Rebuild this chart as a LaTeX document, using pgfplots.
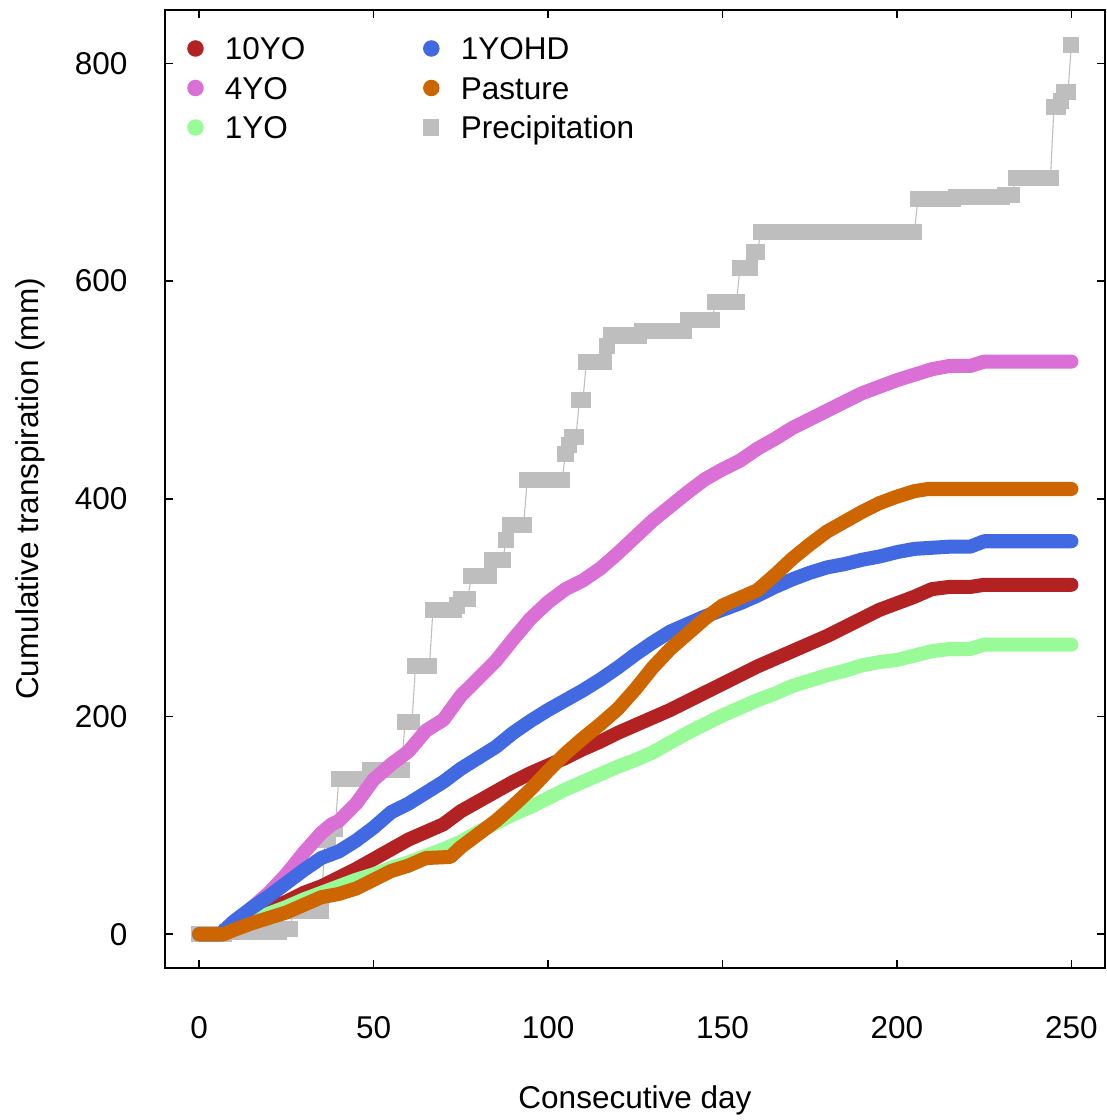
\documentclass[border=0pt]{standalone}
\usepackage{fontspec}
\setmainfont{Liberation Sans}
\usepackage{pgfplots}
\pgfplotsset{compat=1.18}

\definecolor{c10yo}{RGB}{178,34,34}
\definecolor{c4yo}{RGB}{218,112,214}
\definecolor{c1yo}{RGB}{152,251,152}
\definecolor{c1yohd}{RGB}{65,105,225}
\definecolor{cpast}{RGB}{205,102,0}
\definecolor{cprec}{RGB}{190,190,190}

\newcommand\fs{\fontsize{11.67pt}{14pt}\selectfont}

\begin{document}
\begin{tikzpicture}
\begin{axis}[
  scale only axis,
  width=348.1pt, height=354.8pt,
  xmin=-9.8, xmax=259.6, ymin=-31, ymax=849,
  clip=false, clip marker paths=true,
  xtick={0,50,...,250}, ytick={0,200,...,800},
  tick align=inside, major tick length=3pt,
  tick style={black, line width=0.6pt},
  axis line style={line width=0.5pt},
  /pgf/number format/assume math mode=true,
  tick label style={font=\fs},
  xticklabel style={anchor=base, inner sep=0pt, yshift=-26.3pt},
  yticklabel style={anchor=east, inner sep=0pt, xshift=-13.7pt},
  xlabel={Consecutive day},
  ylabel={Cumulative transpiration (mm)},
  label style={font=\fs, inner sep=0pt},
  xlabel style={at={(axis description cs:0.5,-0.1463)}, anchor=base},
  ylabel style={at={(axis description cs:-0.1346,0.5)}, anchor=base},
  legend columns=2,
  legend cell align=left,
  legend style={draw=none, fill=none, inner sep=0pt, font=\fs,
    at={(axis description cs:0,1)}, anchor=north west,
    xshift=8.1pt, yshift=-9.26pt, row sep=3.03pt,
    nodes={inner sep=0pt, text height=9pt, text depth=2.6pt},
    /tikz/every odd column/.append style={column sep=7.9pt},
    /tikz/every even column/.append style={column sep=43.6pt}},
  legend image code/.code={%
    \draw[#1] plot coordinates {(0pt,1pt)};
    \path[draw=none, fill=none] (-3pt,-5.8pt) rectangle (3pt,5.8pt);},
]
% legend, filled row by row
\addlegendimage{mark=*, mark size=2.85pt, color=c10yo}
\addlegendentry{10YO}
\addlegendimage{mark=*, mark size=2.85pt, color=c1yohd}
\addlegendentry{1YOHD}
\addlegendimage{mark=*, mark size=2.85pt, color=c4yo}
\addlegendentry{4YO}
\addlegendimage{mark=*, mark size=2.85pt, color=cpast}
\addlegendentry{Pasture}
\addlegendimage{mark=*, mark size=2.85pt, color=c1yo}
\addlegendentry{1YO}
\addlegendimage{mark=square*, mark size=2.78pt, color=cprec}
\addlegendentry{Precipitation}

% cumulative precipitation, one value per day
\addplot[forget plot, color=cprec, line width=0.4pt, mark=square*, mark size=2.78pt,
  mark options={draw=none, fill=cprec}] table[row sep=\\] {
x y\\
0 0\\1 0\\2 0\\3 0\\4 0\\5 0\\6 0\\7 0\\8 2\\9 2\\10 2\\11 2\\12 2\\13 2\\14 2\\15 2\\
16 2\\17 2\\18 2\\19 2\\20 2\\21 2\\22 2\\23 2\\24 5\\25 5\\26 5\\27 21\\28 21\\29 21\\
30 21\\31 21\\32 21\\33 21\\34 21\\35 21\\36 87\\37 87\\38 97\\39 97\\40 143\\41 143\\
42 143\\43 143\\44 143\\45 143\\46 143\\47 143\\48 143\\49 151\\50 151\\51 151\\52 151\\
53 151\\54 151\\55 151\\56 151\\57 151\\58 151\\59 195\\60 195\\61 195\\62 246\\63 246\\
64 246\\65 246\\66 246\\67 298\\68 298\\69 298\\70 298\\71 298\\72 298\\73 298\\74 302\\
75 308\\76 308\\77 308\\78 329\\79 329\\80 329\\81 329\\82 329\\83 329\\84 344\\85 344\\
86 344\\87 344\\88 362\\89 376\\90 376\\91 376\\92 376\\93 376\\94 417\\95 417\\96 417\\
97 417\\98 417\\99 417\\100 417\\101 417\\102 417\\103 417\\104 417\\105 441\\106 449\\
107 457\\108 457\\109 491\\110 491\\111 526\\112 526\\113 526\\114 526\\115 526\\116 526\\
117 540\\118 550\\119 550\\120 550\\121 550\\122 550\\123 550\\124 550\\125 550\\126 550\\
127 554\\128 554\\129 554\\130 554\\131 554\\132 554\\133 554\\134 554\\135 554\\136 554\\
137 554\\138 554\\139 554\\140 564\\141 564\\142 564\\143 564\\144 564\\145 564\\146 564\\
147 564\\148 581\\149 581\\150 581\\151 581\\152 581\\153 581\\154 581\\155 612\\156 612\\
157 612\\158 612\\159 627\\160 627\\161 645\\162 645\\163 645\\164 645\\165 645\\166 645\\
167 645\\168 645\\169 645\\170 645\\171 645\\172 645\\173 645\\174 645\\175 645\\176 645\\
177 645\\178 645\\179 645\\180 645\\181 645\\182 645\\183 645\\184 645\\185 645\\186 645\\
187 645\\188 645\\189 645\\190 645\\191 645\\192 645\\193 645\\194 645\\195 645\\196 645\\
197 645\\198 645\\199 645\\200 645\\201 645\\202 645\\203 645\\204 645\\205 645\\206 675\\
207 675\\208 675\\209 675\\210 675\\211 675\\212 675\\213 675\\214 675\\215 675\\216 675\\
217 677\\218 677\\219 677\\220 677\\221 677\\222 677\\223 677\\224 677\\225 677\\226 677\\
227 677\\228 677\\229 677\\230 677\\231 679\\232 679\\233 679\\234 695\\235 695\\236 695\\
237 695\\238 695\\239 695\\240 695\\241 695\\242 695\\243 695\\244 695\\245 760\\246 760\\
247 765\\248 774\\249 774\\250 817\\
};

% cumulative transpiration per site
\pgfplotsset{trans/.style={forget plot, line width=5.2pt, line cap=round, line join=round}}

\addplot[trans, color=c10yo] coordinates {
(0,0)(7,0)(10,7)(15,15)(20,23)(25,30)(30,38)(35,44)(40,52)(45,60)(50,69)(55,78)
(60,87)(65,94)(70,101)(75,113)(80,122)(85,131)(90,140)(95,148)(100,155)(105,162)
(110,170)(115,177)(120,185)(125,192)(130,199)(135,206)(140,214)(145,222)(150,230)
(155,238)(160,246)(165,253)(170,260)(175,267)(180,274)(185,282)(190,290)(195,298)
(200,304)(205,310)(210,317)(215,319)(221,319)(225,321)(250,321)};

\addplot[trans, color=c4yo] coordinates {
(0,0)(7,0)(10,10)(15,24)(20,38)(25,55)(30,75)(35,93)(38,101)(40,104)(45,120)(50,142)
(55,156)(60,168)(65,187)(70,197)(75,219)(80,235)(85,251)(90,271)(95,290)(100,305)
(105,317)(110,325)(115,336)(120,350)(125,365)(130,380)(135,393)(140,406)(145,418)
(150,427)(155,435)(160,446)(165,455)(170,465)(175,473)(180,481)(185,489)(190,497)
(195,503)(200,509)(205,514)(210,519)(215,522)(221,522)(225,526)(250,526)};

\addplot[trans, color=c1yo] coordinates {
(0,0)(7,0)(10,6)(15,12)(20,19)(25,25)(30,32)(35,38)(40,44)(45,50)(50,55)(55,61)
(60,66)(65,72)(70,78)(75,85)(80,94)(85,102)(90,110)(95,117)(100,125)(105,133)
(110,140)(115,147)(120,154)(125,160)(130,167)(135,176)(140,185)(145,193)(150,201)
(155,208)(160,215)(165,221)(170,228)(175,233)(180,238)(185,242)(190,247)(195,250)
(200,252)(205,256)(210,260)(215,262)(221,262)(225,266)(250,266)};

\addplot[trans, color=c1yohd] coordinates {
(0,0)(6,0)(10,12)(15,24)(20,35)(25,47)(30,59)(35,70)(40,76)(45,86)(50,98)(55,112)
(60,120)(65,130)(70,140)(75,152)(80,162)(85,172)(90,185)(95,196)(100,206)(105,215)
(110,224)(115,234)(120,245)(125,257)(130,268)(135,278)(140,285)(145,292)(150,298)
(155,304)(160,311)(165,319)(170,326)(175,332)(180,337)(185,340)(190,344)(195,347)
(200,351)(205,354)(210,355)(215,356)(221,356)(225,361)(250,361)};

\addplot[trans, color=cpast] coordinates {
(0,0)(7,0)(10,4)(15,10)(20,15)(25,20)(30,27)(35,34)(40,37)(45,42)(50,50)(55,58)
(60,63)(65,70)(72,71)(75,80)(80,92)(85,104)(90,118)(95,133)(100,150)(105,166)
(110,180)(115,193)(120,207)(125,225)(130,245)(135,262)(140,276)(145,290)(150,302)
(155,309)(160,316)(165,330)(170,345)(175,358)(180,370)(185,379)(190,388)(195,396)
(200,402)(205,407)(209,409)(250,409)};

% heavier left and bottom axis lines
\draw[line width=0.85pt] (rel axis cs:0,1) -- (rel axis cs:0,0) -- (rel axis cs:1,0);
\end{axis}
\path ([xshift=-61.1pt,yshift=-56.3pt]current axis.south west)
  rectangle ([xshift=0.74pt,yshift=3.7pt]current axis.north east);
\end{tikzpicture}
\end{document}
